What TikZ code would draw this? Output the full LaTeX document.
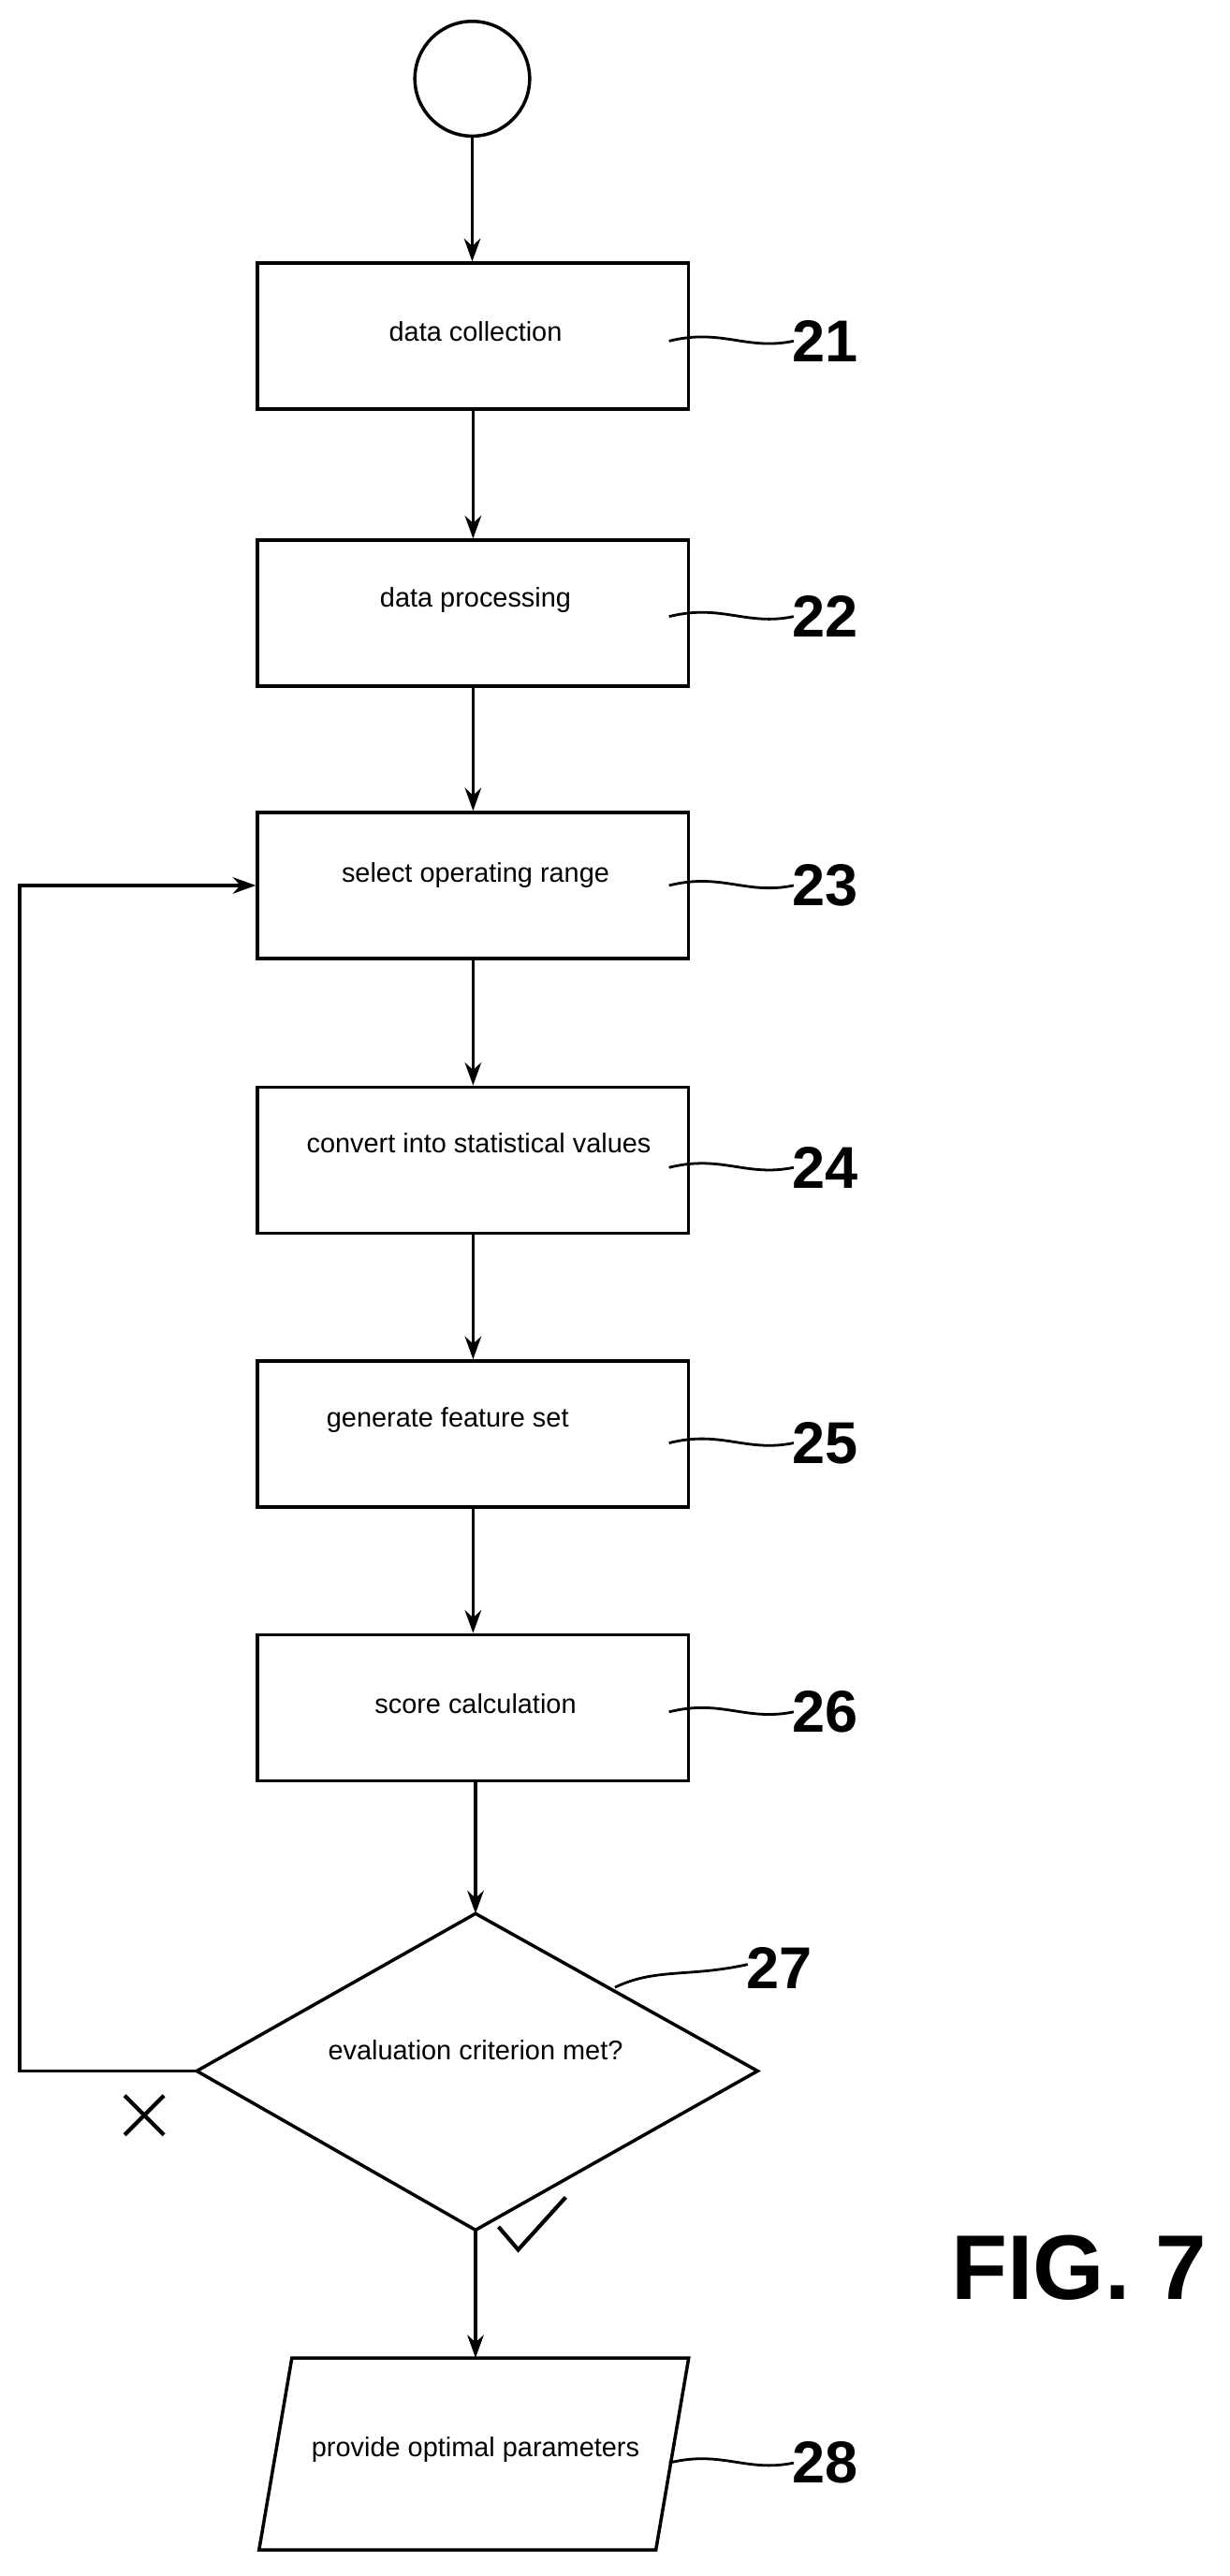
\documentclass[tikz,border=0pt]{standalone}
\usepackage{fontspec}
\setmainfont{Liberation Sans}
\usetikzlibrary{arrows.meta,shapes.geometric}
\begin{document}
\begin{tikzpicture}[x=1pt,y=-1pt,line width=2pt,
  box/.style={draw,minimum width=263pt,minimum height=89pt,inner sep=0pt},
  txt/.style={font=\fontsize{16.5}{18}\selectfont},
  num/.style={font=\fontsize{36}{40}\selectfont\bfseries,inner sep=0pt},
  arr/.style={-{Stealth[length=14pt,width=10pt]}},
  lead/.style={line width=1.6pt}]
\useasboundingbox (0,0) rectangle (750,1571);
\node[draw,circle,minimum size=70pt,inner sep=0pt] (s) at (288,48) {};
\node[box] (b21) at (288.5,205) {};
\node[box] (b22) at (288.5,374) {};
\node[box] (b23) at (288.5,540) {};
\node[box] (b24) at (288.5,707.5) {};
\node[box] (b25) at (288.5,874.5) {};
\node[box] (b26) at (288.5,1041.5) {};
\node[txt] at (290,202) {data collection};
\node[txt] at (290,366) {data processing};
\node[txt] at (290,534) {select operating range};
\node[txt] at (292,697) {convert into statistical values};
\node[txt] at (273,866) {generate feature set};
\node[txt] at (290,1039) {score calculation};
\coordinate (dt) at (290,1167); \coordinate (dl) at (120,1263);
\coordinate (dr) at (462,1263); \coordinate (db) at (290,1360);
\draw (dt) -- (dr) -- (db) -- (dl) -- cycle;
\node[txt] at (290,1250) {evaluation criterion met?};
\coordinate (p1) at (158,1555); \coordinate (p2) at (178,1438);
\coordinate (p3) at (420,1438); \coordinate (p4) at (400,1555);
\draw (p1) -- (p2) -- (p3) -- (p4) -- cycle;
\node[txt] at (290,1494) {provide optimal parameters};
\draw[arr] (s) -- (s|-b21.north);
\draw[arr] (b21) -- (b21|-b22.north);
\draw[arr] (b22) -- (b22|-b23.north);
\draw[arr] (b23) -- (b23|-b24.north);
\draw[arr] (b24) -- (b24|-b25.north);
\draw[arr] (b25) -- (b25|-b26.north);
\draw[arr] (290,1086) -- (dt);
\draw[arr] (db) -- (290,1438);
\coordinate (fb1) at (12,1263); \coordinate (fb2) at (12,540);
\draw[arr] (dl) -- (fb1) -- (fb2) -- (b23.west);
% marks
\draw[line width=2.4pt] (76,1278) -- (100,1302) (100,1278) -- (76,1302);
\draw[line width=2.4pt] (304,1358) -- (316,1372) -- (345,1340);
% labels
\foreach \n/\y in {21/208,22/376,23/540,24/712,25/880,26/1044,28/1502}{
  \node[num] (l\n) at (503,\y) {\n};
  \draw[lead] (408,\y) .. controls (440,\y-8) and (455,\y+6) .. (484,\y);
}
\node[num] (l27) at (475,1200) {27};
\draw[lead] (375,1212) .. controls (400,1200) and (420,1206) .. (456,1198);
\node[font=\fontsize{56}{60}\selectfont\bfseries,inner sep=0pt,anchor=east] (fig) at (737,1383) {FIG. 7};
\end{tikzpicture}
\end{document}
